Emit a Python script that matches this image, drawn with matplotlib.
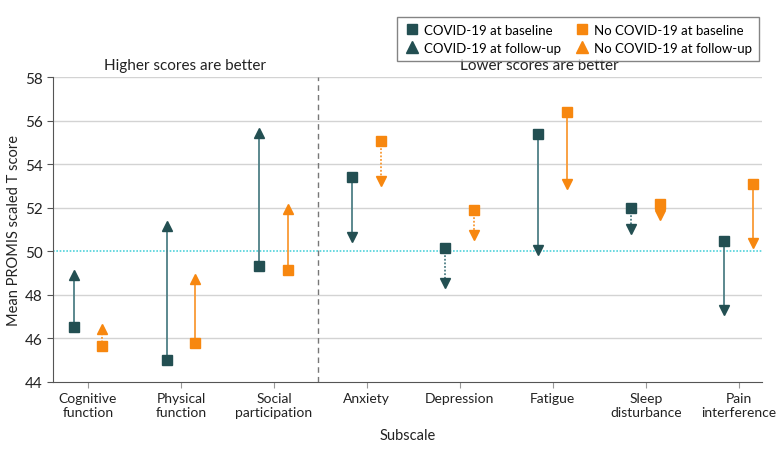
import matplotlib
matplotlib.use("Agg")
import matplotlib.pyplot as plt
from matplotlib.lines import Line2D
import numpy as np

plt.rcParams['font.family'] = ['Lato', 'DejaVu Sans']

categories = ["Cognitive\nfunction", "Physical\nfunction", "Social\nparticipation", "Anxiety",
              "Depression", "Fatigue", "Sleep\ndisturbance", "Pain\ninterference"]
covid_base = [46.53, 45.0, 49.31, 53.41, 50.15, 55.40, 52.00, 50.49]
covid_follow = [48.93, 51.15, 55.44, 50.66, 48.54, 50.04, 51.01, 47.29]
nocovid_base = [45.65, 45.79, 49.13, 55.08, 51.88, 56.39, 52.15, 53.08]
nocovid_follow = [46.42, 48.74, 51.93, 53.21, 50.73, 53.07, 51.65, 50.39]
# line style: True = dotted (non-significant change)
covid_dotted = [False, False, False, False, True, False, True, False]
nocovid_dotted = [True, False, False, True, True, False, True, False]

teal = '#234f52'
teal_line = '#4e7f86'
orange = '#f7870f'
orange_line = '#f99a35'
txt = '#222222'

fig = plt.figure(figsize=(7.8, 4.56), dpi=100)
ax = fig.add_axes([53/780, 1-383/456, (762-53)/780, (383-78)/456])

x = np.arange(len(categories))
off = 0.155

for i in range(len(categories)):
    for xs, b, f, dot, mc, lc in [(x[i]-off, covid_base[i], covid_follow[i], covid_dotted[i], teal, teal_line),
                                  (x[i]+off, nocovid_base[i], nocovid_follow[i], nocovid_dotted[i], orange, orange_line)]:
        ax.plot([xs, xs], [b, f], color=lc, lw=1.3, ls=(0, (1, 1)) if dot else '-', zorder=3)
        ax.plot(xs, b, marker='s', color=mc, ms=6.5, ls='none', zorder=4)
        ax.plot(xs, f, marker='^' if f > b else 'v', color=mc, ms=7.5, ls='none', zorder=4)

ax.set_xlim(-0.376, 7.25)
ax.set_ylim(44, 58)
ax.set_yticks(np.arange(44, 59, 2))
for yv in range(46, 59, 2):
    if yv != 50:
        ax.axhline(yv, color='#d3d3d3', lw=1, zorder=1)
ax.axhline(50, color='#4fd3dc', lw=1.2, ls=(0, (1, 1)), zorder=2)
ax.axvline(2.47, color='#777777', lw=1, ls=(0, (4, 3)), zorder=2)

ax.set_xticks(x)
ax.set_xticklabels(categories, fontsize=10, color=txt)
ax.tick_params(axis='y', labelsize=11, colors=txt, length=4, color='#555555')
ax.tick_params(axis='x', length=4, color='#999999')
for s in ['top', 'right']:
    ax.spines[s].set_visible(False)
ax.spines['left'].set_color('#555555')
ax.spines['bottom'].set_color('#555555')
ax.set_ylabel("Mean PROMIS scaled T score", fontsize=10.5, color=txt, labelpad=3)
ax.set_xlabel("Subscale", fontsize=10.5, color=txt, labelpad=7)

ax.text((-0.376 + 2.47) / 2, 58.25, "Higher scores are better", ha='center', va='bottom', fontsize=11, color=txt)
ax.text((2.47 + 7.25) / 2, 58.25, "Lower scores are better", ha='center', va='bottom', fontsize=11, color=txt)

handles = [Line2D([], [], marker='s', color=teal, ls='none', ms=7),
           Line2D([], [], marker='^', color=teal, ls='none', ms=8),
           Line2D([], [], marker='s', color=orange, ls='none', ms=7),
           Line2D([], [], marker='^', color=orange, ls='none', ms=8)]
labels = ["COVID-19 at baseline", "COVID-19 at follow-up",
          "No COVID-19 at baseline", "No COVID-19 at follow-up"]
leg = fig.legend(handles, labels, ncol=2, loc='upper right', bbox_to_anchor=(766/780, 1-11/456),
                 fontsize=9.5, frameon=True, fancybox=False, edgecolor='#666666',
                 handletextpad=0.4, columnspacing=1.0, labelspacing=0.45, borderpad=0.55,
                 handlelength=1.1)
leg.get_frame().set_linewidth(1)

fig.savefig("out.png", dpi=100)
